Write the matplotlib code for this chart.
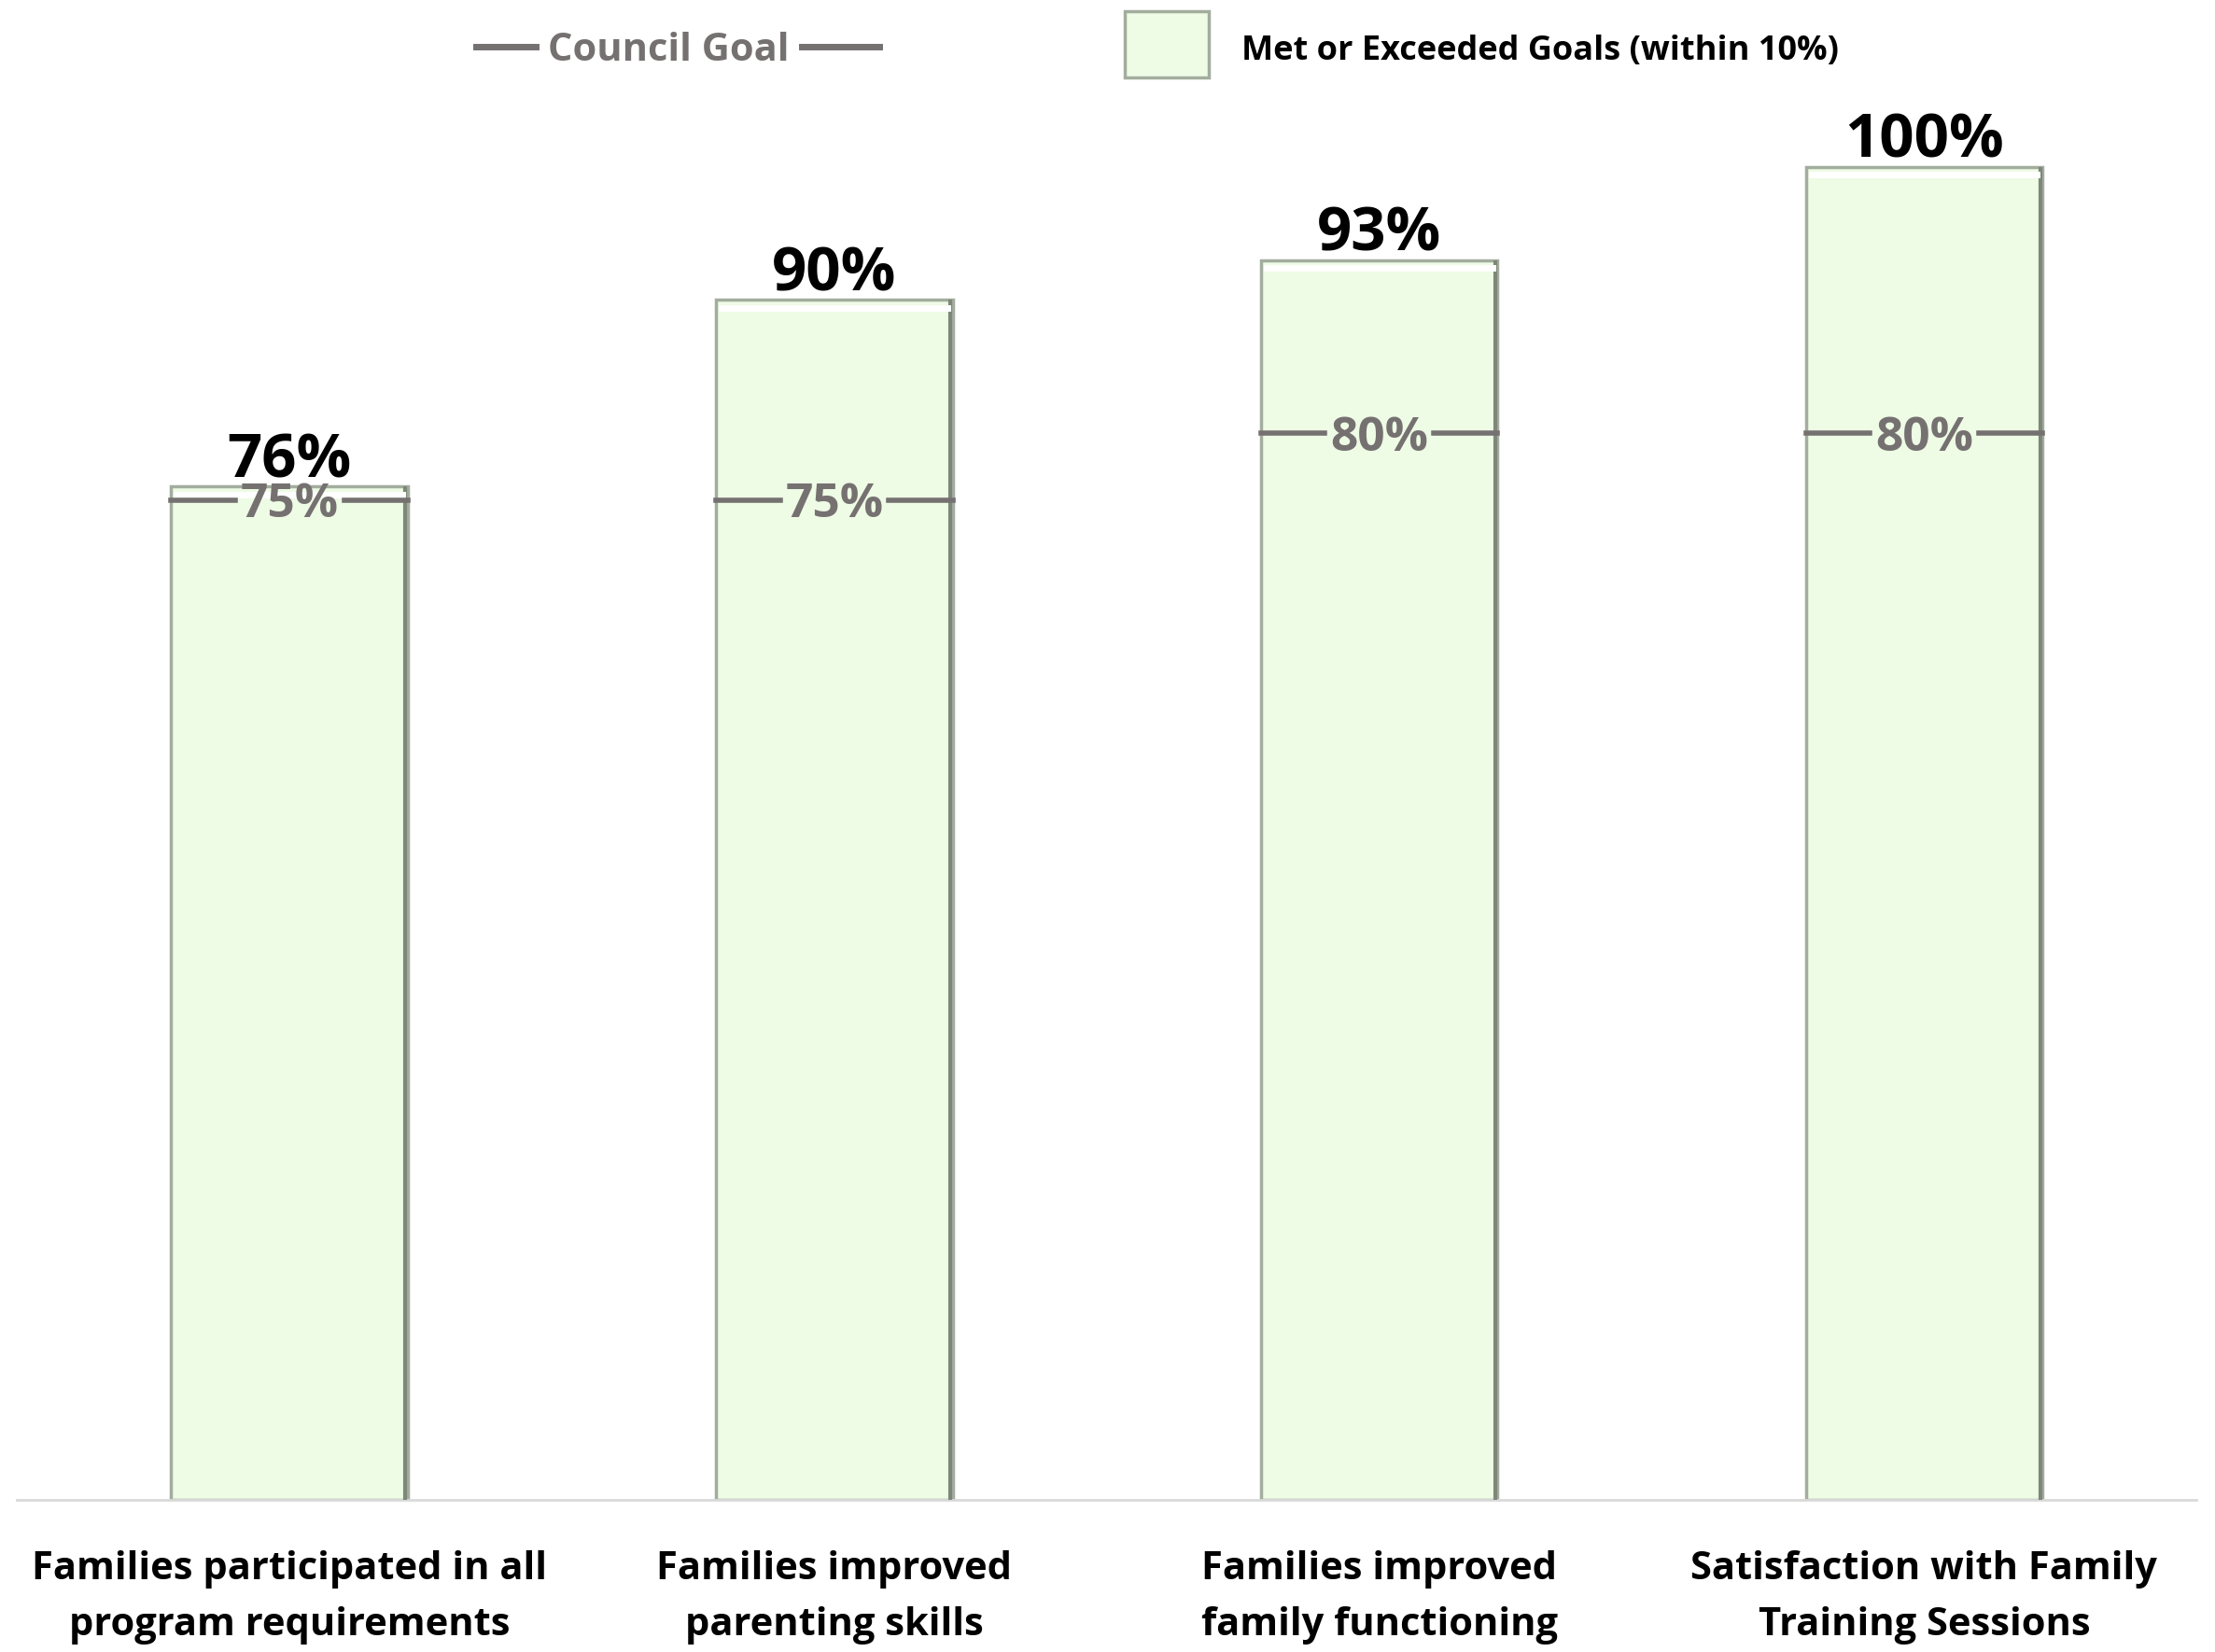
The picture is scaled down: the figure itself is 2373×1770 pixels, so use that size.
import matplotlib.pyplot as plt
from matplotlib.patches import Rectangle
from matplotlib.lines import Line2D

plt.rcParams['font.family'] = ['Open Sans', 'DejaVu Sans']

categories = ["Families participated in all\nprogram requirements",
              "Families improved\nparenting skills",
              "Families improved\nfamily functioning",
              "Satisfaction with Family\nTraining Sessions"]
results = [76, 90, 93, 100]
goals = [75, 75, 80, 80]

bar_color = "#EEFBE5"
edge_color = "#A3AD9E"
goal_color = "#767171"

fig = plt.figure(figsize=(23.73, 17.70), dpi=100)
ax = fig.add_axes([0.0077, 0.0923, 0.984, 0.8875])

x = list(range(len(categories)))
width = 0.434
bars = ax.bar(x, results, width=width, color=bar_color, edgecolor=edge_color,
              linewidth=2.5, zorder=2)

# darker shade along the right edge and a highlight along the top
for b in bars:
    x0, w, h = b.get_x(), b.get_width(), b.get_height()
    ax.plot([x0 + w - 0.004, x0 + w - 0.004], [0, h], color="#7E877A", lw=3,
            zorder=3, solid_capstyle="butt")
    ax.plot([x0 + 0.01, x0 + w - 0.01], [h - 0.6, h - 0.6], color="white",
            lw=5, zorder=3)

for xi, v in zip(x, results):
    ax.text(xi, v - 0.45, f"{v}%", ha="center", va="bottom", fontsize=47,
            fontweight="bold", color="black", zorder=5)

# council goal markers: a line across each bar, broken around its label
gap = 0.1
for xi, g in zip(x, goals):
    left = xi - width / 2
    right = xi + width / 2
    ax.plot([left, xi - gap], [g, g], color=goal_color, lw=4, zorder=4)
    ax.plot([xi + gap, right], [g, g], color=goal_color, lw=4, zorder=4)
    ax.text(xi, g - 0.4, f"{g}%", ha="center", va="center", fontsize=37,
            fontweight="bold", color=goal_color, zorder=5)

ax.set_xlim(-0.5, 3.5)
ax.set_ylim(0, 110)
ax.set_yticks([])
ax.set_xticks(x)
ax.set_xticklabels(categories, fontsize=30, fontweight="bold", linespacing=1.63)
ax.tick_params(axis="x", length=0, pad=39)
for side in ["top", "right", "left"]:
    ax.spines[side].set_visible(False)
ax.spines["bottom"].set_color("#D9D9D9")
ax.spines["bottom"].set_linewidth(2)

# legend drawn in figure coordinates
fig.add_artist(Line2D([0.215, 0.242], [0.9718, 0.9718], color=goal_color, lw=5))
fig.add_artist(Line2D([0.362, 0.397], [0.9718, 0.9718], color=goal_color, lw=5))
fig.text(0.302, 0.969, "Council Goal", ha="center", va="center", fontsize=30,
         fontweight="bold", color=goal_color)
fig.add_artist(Rectangle((0.5077, 0.9531), 0.038, 0.0402, facecolor=bar_color,
                         edgecolor=edge_color, lw=2.5))
fig.text(0.5605, 0.969, "Met or Exceeded Goals (within 10%)", ha="left",
         va="center", fontsize=26, fontweight="bold", color="black")

fig.savefig("out.png", dpi=100)
